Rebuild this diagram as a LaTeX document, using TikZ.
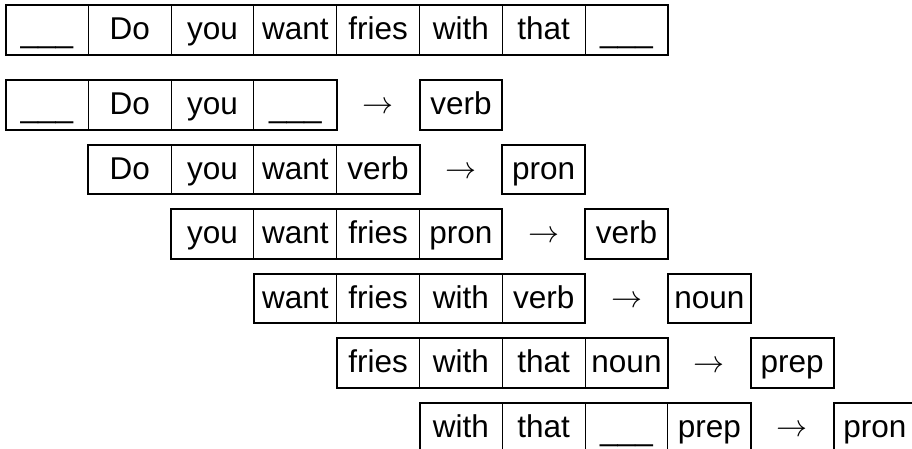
\RequirePackage{fix-cm}
\documentclass[tikz,border=0pt]{standalone}
\usepackage{fontspec}
\setmainfont{Liberation Sans}
\newcommand{\blank}{\raisebox{-2.5pt}{\_\_\_}}
\tikzset{
  cell/.style={draw, line width=0.9pt, minimum width=82.8pt, minimum height=49.5pt,
    inner sep=0pt, outer sep=0pt, text height=19.5pt, text depth=0pt,
    font=\fontsize{31.5}{38}\selectfont},
  outbox/.style={cell, line width=2pt},
  frame/.style={draw, line width=2pt},
  arr/.style={inner sep=0pt, text height=18pt, text depth=0pt,
    font=\fontsize{31}{38}\selectfont},
}
\begin{document}
\begin{tikzpicture}[x=1pt,y=-1pt]
\useasboundingbox (0,0) rectangle (912,448);
\clip (0,0) rectangle (912,448);
% top sentence row
\foreach \w [count=\i from 0] in {\blank,Do,you,want,fries,with,that,\blank}{
  \node[cell] (s\i) at ({5.5+82.8*(\i+0.5)},29.75) {\w};
}
\draw[frame] (s0.north west) rectangle (s7.south east);
% window rows
\foreach \a/\b/\c/\d/\o [count=\r from 0] in {
  \blank/Do/you/\blank/verb,
  Do/you/want/verb/pron,
  you/want/fries/pron/verb,
  want/fries/with/verb/noun,
  fries/with/that/noun/prep,
  with/that/\blank/prep/pron}{
  \pgfmathsetmacro{\sx}{5.5+82.8*\r}
  \pgfmathsetmacro{\cy}{80+64.6*\r+24.75}
  \node[cell] (w\r-1) at ({\sx+82.8*0.5},\cy) {\a};
  \node[cell] (w\r-2) at ({\sx+82.8*1.5},\cy) {\b};
  \node[cell] (w\r-3) at ({\sx+82.8*2.5},\cy) {\c};
  \node[cell] (w\r-4) at ({\sx+82.8*3.5},\cy) {\d};
  \draw[frame] (w\r-1.north west) rectangle (w\r-4.south east);
  \node[arr] (a\r) at ({\sx+82.8*4.5},\cy) {$\rightarrow$};
  \node[outbox] (o\r) at ({\sx+82.8*5.5},\cy) {\o};
}
\end{tikzpicture}
\end{document}
